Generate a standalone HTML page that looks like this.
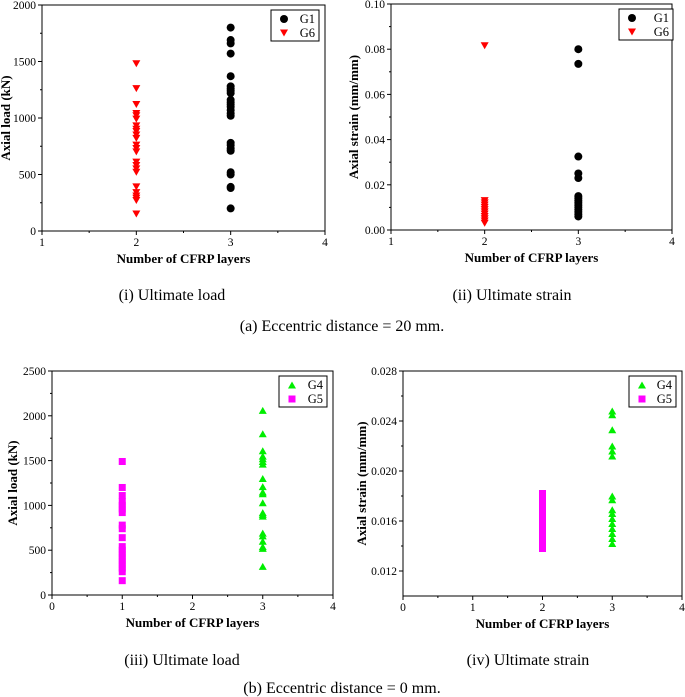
<!DOCTYPE html>
<html><head><meta charset="utf-8"><style>
body{margin:0;background:#fff;font-family:"Liberation Serif",serif}
svg{display:block}
text{font-family:"Liberation Serif",serif}
</style></head><body>
<svg id="s" width="685" height="697"></svg>
<script>
// Panel i: Ultimate load, e=20
const g1LoadX=3, g6LoadX=2;
const g1Load=[200,380,390,500,520,710,730,760,780,1020,1040,1070,1100,1120,1140,1160,1220,1240,1260,1280,1370,1570,1660,1690,1800];
const g6Load=[150,270,290,310,340,390,520,550,580,610,700,730,760,820,850,880,900,930,990,1020,1040,1120,1260,1480];
// Panel ii: Ultimate strain, e=20
const g1Strain=[0.006,0.007,0.008,0.009,0.010,0.011,0.012,0.013,0.014,0.015,0.023,0.025,0.0325,0.0735,0.080];
const g6Strain=[0.003,0.004,0.005,0.006,0.007,0.008,0.009,0.010,0.011,0.012,0.013,0.0815];
// Panel iii: Ultimate load, e=0
const g4LoadX=3, g5LoadX=1;
const g4Load=[320,520,540,600,660,690,880,900,920,1030,1130,1150,1210,1300,1460,1490,1520,1550,1610,1800,2060];
const g5Load=[160,260,300,340,380,420,460,500,540,640,740,780,920,960,1000,1040,1110,1200,1490];
// Panel iv: Ultimate strain, e=0
const g4StrainX=3, g5StrainX=2;
const g4Strain=[0.0142,0.0146,0.0150,0.0154,0.0158,0.0162,0.0166,0.0169,0.0177,0.0180,0.0212,0.0216,0.0220,0.0233,0.0245,0.0248];
const g5Strain=[0.0138,0.0142,0.0146,0.0150,0.0154,0.0158,0.0162,0.0166,0.0170,0.0174,0.0178,0.0182];
const xTicks1=[1,2,3,4], xTicks2=[0,1,2,3,4];
const yTicksI=[0,500,1000,1500,2000], yTicksII=[0,0.02,0.04,0.06,0.08,0.10];
const yTicksIII=[0,500,1000,1500,2000,2500], yTicksIV=[0.012,0.016,0.020,0.024,0.028];

const NS='http://www.w3.org/2000/svg', S=document.getElementById('s');
function el(t,a,p,txt){const e=document.createElementNS(NS,t);for(const k in a)e.setAttribute(k,a[k]);if(txt!=null)e.textContent=txt;(p||S).appendChild(e);return e;}
function marker(g,kind,cx,cy,name){
  let e;
  if(kind==='circle')e=el('circle',{cx,cy,r:4,fill:'#000'},g);
  else if(kind==='down')e=el('polygon',{points:`${cx-4},${cy-3.5} ${cx+4},${cy-3.5} ${cx},${cy+3.5}`,fill:'#f00'},g);
  else if(kind==='up')e=el('polygon',{points:`${cx-4},${cy+3.5} ${cx+4},${cy+3.5} ${cx},${cy-3.5}`,fill:'#0e0'},g);
  else e=el('rect',{x:cx-3.5,y:cy-3.5,width:7,height:7,fill:'#f0f'},g);
  
  
}
function panel(o){
  const g=el('g',{});
  
  
  const sx=v=>o.x0+(v-o.xmin)/(o.xmax-o.xmin)*(o.x1-o.x0);
  const sy=v=>o.y1-(v-o.ymin)/(o.ymax-o.ymin)*(o.y1-o.y0);
  el('rect',{x:o.x0,y:o.y0,width:o.x1-o.x0,height:o.y1-o.y0,fill:'none',stroke:'#000','stroke-width':1},g);
  o.xt.forEach((v,i)=>{const x=sx(v);el('line',{x1:x,x2:x,y1:o.y1,y2:o.y1+4,stroke:'#000'},g);
    if(i<o.xt.length-1){const xm=sx(v+0.5);el('line',{x1:xm,x2:xm,y1:o.y1,y2:o.y1+2,stroke:'#000'},g);}
    const t=el('text',{x,y:o.y1+15,'text-anchor':'middle','font-size':11.5},g,String(v));});
  o.yt.forEach((v,i)=>{const y=sy(v);el('line',{x1:o.x0-4,x2:o.x0,y1:y,y2:y,stroke:'#000'},g);
    if(i<o.yt.length-1){const ym=sy(v+(o.yt[1]-o.yt[0])/2);el('line',{x1:o.x0-2,x2:o.x0,y1:ym,y2:ym,stroke:'#000'},g);}
    const t=el('text',{x:o.x0-6,y:y+4,'text-anchor':'end','font-size':11.5},g,o.fmt(v));});
  const xt=el('text',{x:(o.x0+o.x1)/2,y:o.y1+32,'text-anchor':'middle','font-size':13,'font-weight':'bold'},g,'Number of CFRP layers');
  
  const yc=(o.y0+o.y1)/2, yx=o.ytx;
  const yt=el('text',{x:yx,y:yc,'text-anchor':'middle','font-size':13,'font-weight':'bold',transform:`rotate(-90 ${yx} ${yc})`},g,o.ytitle);
  
  o.series.forEach(s=>s.vals.forEach(v=>marker(g,s.kind,sx(s.x),sy(v),s.label.toLowerCase()+'-point')));
  const L=o.leg;
  const lg=el('g',{},g);
  el('rect',{x:L[0],y:L[1],width:L[2],height:31,fill:'#fff',stroke:'#000'},lg);
  o.series.forEach((s,i)=>{const cy=L[1]+9+i*14;marker(lg,s.kind,L[0]+13,cy,'legend-marker-'+s.label.toLowerCase());
    const t=el('text',{x:L[0]+L[2]-4,y:cy+4,'text-anchor':'end','font-size':12.5},lg,s.label);});
}
const f0=v=>String(v), f2=v=>v.toFixed(2), f3=v=>v.toFixed(3);
panel({name:'panel-ultimate-load-20',x0:42,x1:325,y0:5,y1:231,xmin:1,xmax:4,ymin:0,ymax:2000,xt:xTicks1,yt:yTicksI,fmt:f0,ytitle:'Axial load (kN)',ytx:10,leg:[271,10,48],
  series:[{label:'G1',kind:'circle',x:g1LoadX,vals:g1Load},{label:'G6',kind:'down',x:g6LoadX,vals:g6Load}]});
panel({name:'panel-ultimate-strain-20',x0:391,x1:672,y0:4,y1:230,xmin:1,xmax:4,ymin:0,ymax:0.1,xt:xTicks1,yt:yTicksII,fmt:f2,ytitle:'Axial strain (mm/mm)',ytx:358,leg:[619,9,54],
  series:[{label:'G1',kind:'circle',x:g1LoadX,vals:g1Strain},{label:'G6',kind:'down',x:g6LoadX,vals:g6Strain}]});
panel({name:'panel-ultimate-load-0',x0:52,x1:333,y0:371,y1:595,xmin:0,xmax:4,ymin:0,ymax:2500,xt:xTicks2,yt:yTicksIII,fmt:f0,ytitle:'Axial load (kN)',ytx:17,leg:[279,376,48],
  series:[{label:'G4',kind:'up',x:g4LoadX,vals:g4Load},{label:'G5',kind:'square',x:g5LoadX,vals:g5Load}]});
panel({name:'panel-ultimate-strain-0',x0:403,x1:682,y0:371,y1:596,xmin:0,xmax:4,ymin:0.010,ymax:0.028,xt:xTicks2,yt:yTicksIV,fmt:f3,ytitle:'Axial strain (mm/mm)',ytx:366,leg:[629,376,47],
  series:[{label:'G4',kind:'up',x:g4StrainX,vals:g4Strain},{label:'G5',kind:'square',x:g5StrainX,vals:g5Strain}]});
[[172,300,'(i) Ultimate load','caption-i'],[512,300,'(ii) Ultimate strain','caption-ii'],[342,331,'(a)  Eccentric distance = 20 mm.','caption-a'],
 [182,665,'(iii) Ultimate load','caption-iii'],[528,665,'(iv) Ultimate strain','caption-iv'],[342,693,'(b)  Eccentric distance = 0 mm.','caption-b']].forEach(c=>{
  const t=el('text',{x:c[0],y:c[1],'text-anchor':'middle','font-size':16},S,c[2]);
  
  
});
</script>
</body></html>
